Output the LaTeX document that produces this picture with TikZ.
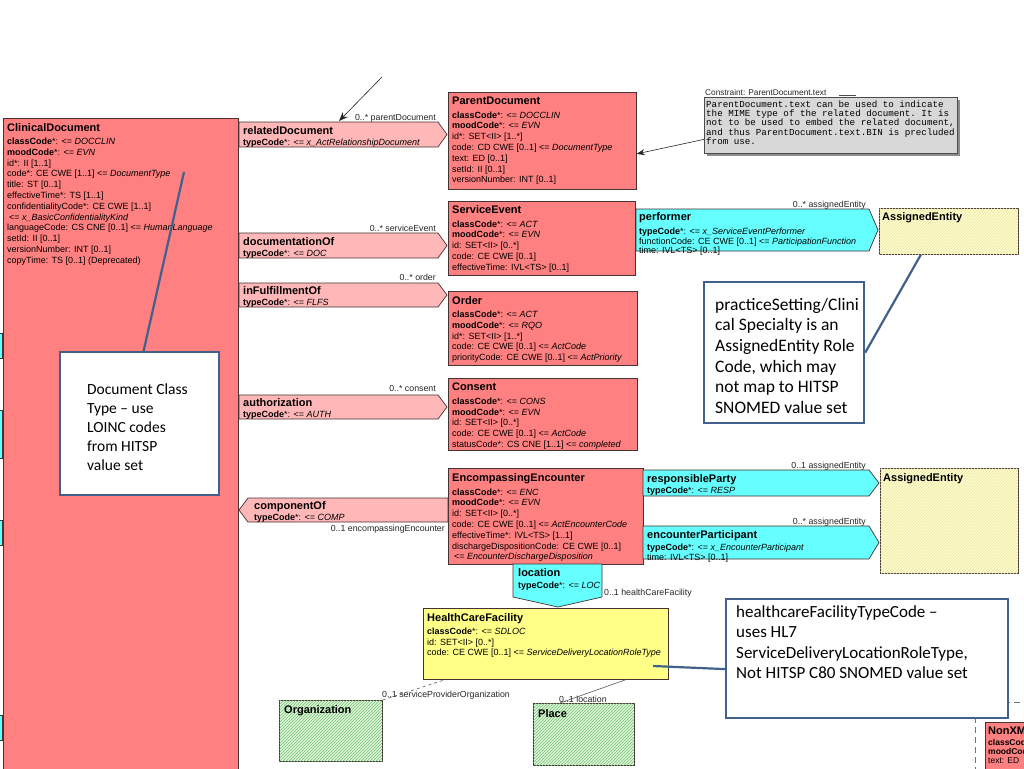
\documentclass[tikz,border=0pt]{standalone}
\usepackage{fontspec}
\setmainfont{Liberation Sans}
\setmonofont{Liberation Mono}
\newfontfamily\notefont{Carlito}
\usetikzlibrary{arrows.meta,patterns,positioning}

\definecolor{clsred}{RGB}{255,128,128}
\definecolor{relpink}{RGB}{255,183,183}
\definecolor{partcyan}{RGB}{102,255,255}
\definecolor{roleyel}{RGB}{255,255,200}
\definecolor{rolehatch}{RGB}{232,228,176}
\definecolor{hcfyel}{RGB}{255,255,136}
\definecolor{entgreen}{RGB}{222,247,216}
\definecolor{enthatch}{RGB}{120,190,120}
\definecolor{notebl}{RGB}{66,96,140}
\definecolor{congray}{RGB}{216,216,216}
\definecolor{edge}{RGB}{70,50,50}

\newcommand\clsname[1]{{\fontsize{11}{12}\selectfont\bfseries #1}}

\tikzset{
  box/.style={draw=edge, line width=0.7pt, anchor=north west, inner sep=0pt},
  cls/.style={box, fill=clsred},
  role/.style={box, fill=roleyel, postaction={pattern=north east lines, pattern color=rolehatch}},
  ent/.style={box, fill=entgreen, postaction={pattern=north east lines, pattern color=enthatch}},
  rel/.style={draw=edge, line width=0.7pt, fill=relpink},
  part/.style={draw=edge, line width=0.7pt, fill=partcyan},
  att/.style={anchor=north west, inner sep=0pt, align=left, font=\fontsize{9}{10.8}\selectfont},
  lbl/.style={inner sep=0pt, font=\fontsize{8.8}{10}\selectfont, text=black!85},
  note/.style={box, draw=notebl, line width=2.2pt, fill=white},
  notetxt/.style={anchor=north west, inner sep=0pt, align=left},
  noteline/.style={draw=notebl, line width=2.2pt},
  link/.style={draw=black!65, line width=0.6pt}
}

\begin{document}
\begin{tikzpicture}[x=1pt, y=-1pt, > = Stealth]
  \useasboundingbox (0,0) rectangle (1024,768);
  \fill[white] (0,0) rectangle (1024,768);
  \clip (0,0) rectangle (1024,768);

  % cut-off boxes at the left edge
  \foreach \ya/\yb in {333/358, 410/458, 520/545, 715/740}
    \draw[part] (-3,\ya) rectangle (2.5,\yb);

  % ClinicalDocument
  \node[cls, minimum width=235pt, minimum height=700pt] (clin) at (3,118) {};
  \node[att] at ([shift={(4pt,-5pt)}]clin.north west) {\clsname{ClinicalDocument}\\[2.6pt]
    \textbf{classCode}*: <= \textit{DOCCLIN}\\
    \textbf{moodCode}*: <= \textit{EVN}\\
    id*: II [1..1]\\
    code*: CE CWE [1..1] <= \textit{DocumentType}\\
    title: ST [0..1]\\
    effectiveTime*: TS [1..1]\\
    confidentialityCode*: CE CWE [1..1]\\
    \hspace*{2pt}<= \textit{x\_BasicConfidentialityKind}\\
    languageCode: CS CNE [0..1] <= \textit{HumanLanguage}\\
    setId: II [0..1]\\
    versionNumber: INT [0..1]\\
    copyTime: TS [0..1] (Deprecated)};

  % act relationships
  \draw[rel] (239,122) coordinate (rd) -- (438,122) -- (447,134.5) -- (438,147) -- (239,147) -- cycle;
  \node[att] at ([shift={(4pt,-4pt)}]rd) {\clsname{relatedDocument}\\[0.2pt]
    \textbf{typeCode}*: <= \textit{x\_ActRelationshipDocument}};
  \node[lbl, anchor=base east] at (436,120) {0..* parentDocument};

  \draw[rel] (239,233) coordinate (doc) -- (438,233) -- (447,245.5) -- (438,258) -- (239,258) -- cycle;
  \node[att] at ([shift={(4pt,-4pt)}]doc) {\clsname{documentationOf}\\[0.2pt]
    \textbf{typeCode}*: <= \textit{DOC}};
  \node[lbl, anchor=base east] at (436,231) {0..* serviceEvent};

  \draw[rel] (239,283) coordinate (ful) -- (438,283) -- (447,295) -- (438,307) -- (239,307) -- cycle;
  \node[att] at ([shift={(4pt,-3.5pt)}]ful) {\clsname{inFulfillmentOf}\\[0.2pt]
    \textbf{typeCode}*: <= \textit{FLFS}};
  \node[lbl, anchor=base east] at (436,280.5) {0..* order};

  \draw[rel] (239,395) coordinate (auth) -- (438,395) -- (447,407) -- (438,419) -- (239,419) -- cycle;
  \node[att] at ([shift={(4pt,-3pt)}]auth) {\clsname{authorization}\\[0.2pt]
    \textbf{typeCode}*: <= \textit{AUTH}};
  \node[lbl, anchor=base east] at (436,391.5) {0..* consent};

  \draw[rel] (448,498) -- (248,498) coordinate (comp) -- (239,510) -- (248,522) -- (448,522) -- cycle;
  \node[att] at ([shift={(6pt,-3.5pt)}]comp) {\clsname{componentOf}\\[0.2pt]
    \textbf{typeCode}*: <= \textit{COMP}};
  \node[lbl, anchor=base east] at (445,531) {0..1 encompassingEncounter};

  % acts
  \node[cls, minimum width=188pt, minimum height=97pt] (parent) at (448,92) {};
  \node[att] at ([shift={(4pt,-5pt)}]parent.north west) {\clsname{ParentDocument}\\[2.6pt]
    \textbf{classCode}*: <= \textit{DOCCLIN}\\
    \textbf{moodCode}*: <= \textit{EVN}\\
    id*: SET<II> [1..*]\\
    code: CD CWE [0..1] <= \textit{DocumentType}\\
    text: ED [0..1]\\
    setId: II [0..1]\\
    versionNumber: INT [0..1]};

  \node[cls, minimum width=187pt, minimum height=74pt] (svc) at (448,201) {};
  \node[att] at ([shift={(4pt,-4.5pt)}]svc.north west) {\clsname{ServiceEvent}\\[2.6pt]
    \textbf{classCode}*: <= \textit{ACT}\\
    \textbf{moodCode}*: <= \textit{EVN}\\
    id: SET<II> [0..*]\\
    code: CE CWE [0..1]\\
    effectiveTime: IVL<TS> [0..1]};

  \node[cls, minimum width=189pt, minimum height=74pt] (order) at (448,291) {};
  \node[att] at ([shift={(4pt,-5pt)}]order.north west) {\clsname{Order}\\[2.6pt]
    \textbf{classCode}*: <= \textit{ACT}\\
    \textbf{moodCode}*: <= \textit{RQO}\\
    id*: SET<II> [1..*]\\
    code: CE CWE [0..1] <= \textit{ActCode}\\
    priorityCode: CE CWE [0..1] <= \textit{ActPriority}};

  \node[cls, minimum width=189pt, minimum height=72pt] (consent) at (448,378) {};
  \node[att] at ([shift={(4pt,-5pt)}]consent.north west) {\clsname{Consent}\\[2.6pt]
    \textbf{classCode}*: <= \textit{CONS}\\
    \textbf{moodCode}*: <= \textit{EVN}\\
    id: SET<II> [0..*]\\
    code: CE CWE [0..1] <= \textit{ActCode}\\
    statusCode*: CS CNE [1..1] <= \textit{completed}};

  \node[cls, minimum width=195pt, minimum height=96pt] (enc) at (448,468) {};
  \node[att] at ([shift={(4pt,-5.5pt)}]enc.north west) {\clsname{EncompassingEncounter}\\[2.6pt]
    \textbf{classCode}*: <= \textit{ENC}\\
    \textbf{moodCode}*: <= \textit{EVN}\\
    id: SET<II> [0..*]\\
    code: CE CWE [0..1] <= \textit{ActEncounterCode}\\
    effectiveTime*: IVL<TS> [1..1]\\
    dischargeDispositionCode: CE CWE [0..1]\\
    \hspace*{2pt}<= \textit{EncounterDischargeDisposition}};

  % participations
  \draw[part] (636,209) coordinate (perf) -- (869,209) -- (878,230) -- (869,251) -- (636,251) -- cycle;
  \node[att, font=\fontsize{9}{8}\selectfont] at ([shift={(3pt,-3.5pt)}]perf) {\clsname{performer}\\[4.5pt]
    \textbf{typeCode}*: <= \textit{x\_ServiceEventPerformer}\\
    functionCode: CE CWE [0..1] <= \textit{ParticipationFunction}\\
    time: IVL<TS> [0..1]};
  \node[lbl, anchor=base east] at (866,207) {0..* assignedEntity};

  \draw[part] (643,470) coordinate (resp) -- (869,470) -- (879,483) -- (869,496) -- (643,496) -- cycle;
  \node[att] at ([shift={(4pt,-4pt)}]resp) {\clsname{responsibleParty}\\[0.7pt]
    \textbf{typeCode}*: <= \textit{RESP}};
  \node[lbl, anchor=base east] at (866,468.5) {0..1 assignedEntity};

  \draw[part] (643,526) coordinate (encp) -- (869,526) -- (879,542.5) -- (869,559) -- (643,559) -- cycle;
  \node[att, font=\fontsize{9}{7.8}\selectfont] at ([shift={(4pt,-4pt)}]encp) {\clsname{encounterParticipant}\\[3pt]
    \textbf{typeCode}*: <= \textit{x\_EncounterParticipant}\\
    time: IVL<TS> [0..1]};
  \node[lbl, anchor=base east] at (866,524) {0..* assignedEntity};

  \draw[part] (513,564) coordinate (loc) -- (602,564) -- (602,597) -- (558,607) -- (513,597) -- cycle;
  \node[att] at ([shift={(5pt,-4pt)}]loc) {\clsname{location}\\[1.7pt]
    \textbf{typeCode}*: <= \textit{LOC}};
  \node[lbl, anchor=base west] at (604,595) {0..1 healthCareFacility};

  % roles and entities
  \node[role, minimum width=139pt, minimum height=46pt] (ae1) at (879,208) {};
  \node[att] at ([shift={(3pt,-4pt)}]ae1.north west) {\clsname{AssignedEntity}};
  \node[role, minimum width=138pt, minimum height=105pt] (ae2) at (880,468) {};
  \node[att] at ([shift={(3pt,-5pt)}]ae2.north west) {\clsname{AssignedEntity}};

  \node[box, fill=hcfyel, minimum width=245pt, minimum height=71pt] (hcf) at (423,608) {};
  \node[att, font=\fontsize{9}{10.5}\selectfont] at ([shift={(4pt,-5pt)}]hcf.north west) {\clsname{HealthCareFacility}\\[3pt]
    \textbf{classCode}*: <= \textit{SDLOC}\\
    id: SET<II> [0..*]\\
    code: CE CWE [0..1] <= \textit{ServiceDeliveryLocationRoleType}};

  \node[ent, minimum width=103pt, minimum height=61pt] (org) at (279,700) {};
  \node[att] at ([shift={(5pt,-5pt)}]org.north west) {\clsname{Organization}};
  \node[ent, minimum width=101pt, minimum height=62pt] (place) at (533,703) {};
  \node[att] at ([shift={(5pt,-6pt)}]place.north west) {\clsname{Place}};

  \draw[link, dashed] (org.north east) -- ([xshift=22pt]hcf.south west);
  \node[lbl, anchor=base west] at (382,697) {0..1 serviceProviderOrganization};
  \draw[link] ([xshift=27pt]place.north west) -- ([xshift=-43pt]hcf.south east);
  \node[lbl, anchor=base west] at (559,702) {0..1 location};

  % NonXMLBody, cut off
  \draw[black!55, line width=1pt, dash pattern=on 6pt off 4pt] (1040,702) -- (975,702) -- (975,790);
  \node[cls, minimum width=60pt, minimum height=80pt] (nonxml) at (985,722) {};
  \node[att, font=\fontsize{8.5}{9}\selectfont] at ([shift={(3pt,-4pt)}]nonxml.north west) {\clsname{NonXMLBody}\\[2pt]
    \textbf{classCode}\\
    \textbf{moodCode}\\
    text: ED};

  % constraint
  \fill[black!45] (707,100) rectangle (960,156);
  \node[box, draw=black!70, fill=congray, minimum width=253pt, minimum height=56pt] (con) at (704,97) {};
  \node[lbl, anchor=base west, font=\fontsize{8.3}{9}\selectfont] at (705,95.5) {Constraint: ParentDocument.text};
  \draw[black!70, line width=0.6pt] (839,95) -- (856,95);
  \node[att, font=\ttfamily\fontsize{9.2}{9.3}\selectfont] at ([shift={(2pt,-3.5pt)}]con.north west)
    {ParentDocument.text can be used to indicate\\
    the MIME type of the related document. It is\\
    not to be used to embed the related document,\\
    and thus ParentDocument.text.BIN is precluded\\
    from use.};
  \draw[-{Stealth[length=8pt,width=6pt]}, black!85, line width=0.6pt] ([yshift=-14pt]con.west) -- ([yshift=-13pt]parent.east);

  % incoming arrow
  \coordinate (relsrc) at (382,77);
  \coordinate (relhit) at (339,121);
  \draw[-{Stealth[length=9pt,width=7pt]}, black!85, line width=0.6pt] (relsrc) -- (relhit);

  % notes
  \node[note, minimum width=159pt, minimum height=143pt] (docnote) at (59,351) {};
  \node[notetxt, font=\notefont\fontsize{15.5}{19}\selectfont] at (87,384) {Document Class\\Type – use\\LOINC codes\\from HITSP\\value set};
  \coordinate (doccode) at (184,172);
  \draw[noteline] ([xshift=4pt]docnote.north) -- (doccode);

  \node[note, minimum width=160pt, minimum height=141pt] (pracnote) at (703,281) {};
  \node[notetxt, font=\notefont\fontsize{17.5}{20.6}\selectfont] at (715,298) {practiceSetting/Clini\\cal Specialty is an\\AssignedEntity Role\\Code, which may\\not map to HITSP\\SNOMED value set};
  \draw[noteline] (pracnote.east) -- ([xshift=-28pt]ae1.south);

  \node[note, minimum width=282pt, minimum height=119pt] (hcfnote) at (725,598) {};
  \node[notetxt, font=\notefont\fontsize{17}{20.5}\selectfont] at (736,605) {healthcareFacilityTypeCode –\\uses HL7\\ServiceDeliveryLocationRoleType,\\Not HITSP C80 SNOMED value set};
  \coordinate (hcfcode) at (653,666);
  \draw[noteline] ([yshift=-10.5pt]hcfnote.west) -- (hcfcode);
\end{tikzpicture}
\end{document}
